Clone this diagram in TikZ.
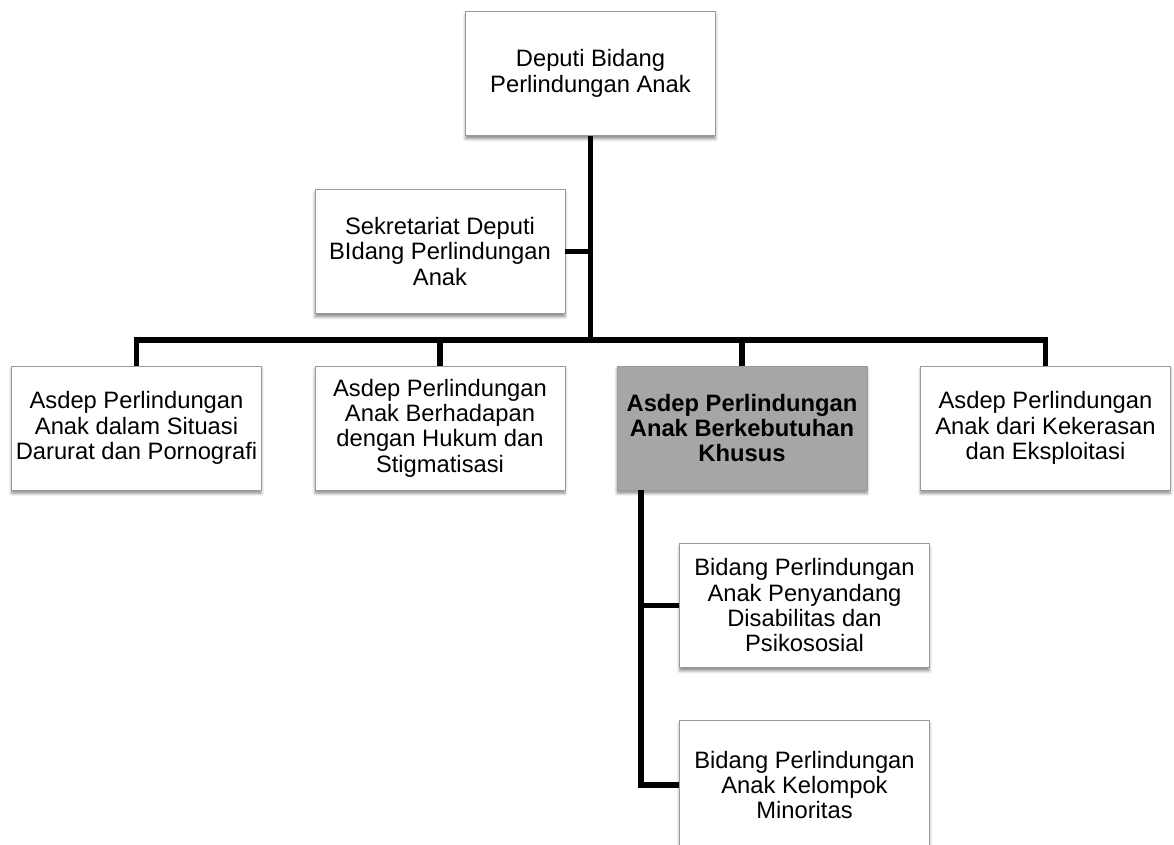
\documentclass[tikz,border=0pt]{standalone}
\usepackage{fontspec}
\setmainfont{Liberation Sans}
\usetikzlibrary{shadows.blur}
\definecolor{boxline}{HTML}{9A9A9A}
\definecolor{hifill}{HTML}{A6A6A6}

\begin{document}
\begin{tikzpicture}[x=0.75pt,y=-0.75pt,
		box/.style={draw=boxline, line width=0.6pt, fill=white, align=center,
			minimum width=187.5pt, minimum height=93pt, inner sep=2pt,
			font=\fontsize{17.8}{19}\selectfont,
			blur shadow={shadow xshift=0pt, shadow yshift=-2.5pt, shadow blur steps=5, shadow opacity=45}},
		hibox/.style={box, fill=hifill, font=\fontsize{17.8}{19}\selectfont\bfseries},
		conn/.style={line width=4pt}]
		\useasboundingbox (0,0) rectangle (1174,845);

		\node[box] (dep) at (590.5,73.5) {Deputi Bidang\\Perlindungan Anak};
		\node[box] (sek) at (440,251.5) {Sekretariat Deputi\\BIdang Perlindungan\\Anak};

		\node[box] (situasi) at (136.5,428) {Asdep Perlindungan\\Anak dalam Situasi\\Darurat dan Pornografi};
		\node[box] (hukum) at (440,428) {Asdep Perlindungan\\Anak Berhadapan\\dengan Hukum dan\\Stigmatisasi};
		\node[hibox] (khusus) at (742,428) {Asdep Perlindungan\\Anak Berkebutuhan\\Khusus};
		\node[box] (eksploitasi) at (1045.5,428) {Asdep Perlindungan\\Anak dari Kekerasan\\dan Eksploitasi};

		\node[box] (disabilitas) at (804.5,605.5) {Bidang Perlindungan\\Anak Penyandang\\Disabilitas dan\\Psikososial};
		\node[box, minimum height=97pt] (minoritas) at (804.5,785) {Bidang Perlindungan\\Anak Kelompok\\Minoritas};

		% lines between the boxes
		\coordinate (bar) at (590.5,340);
		\coordinate (sub) at (641,490);
		\draw [conn] (dep.south) -- (bar);
		\draw [conn] (sek.east) -- (sek.east -| dep.south);
		\draw [conn] (situasi.north) |- (bar) -| (eksploitasi.north);
		\draw [conn] (hukum.north) -- (hukum.north |- bar);
		\draw [conn] (khusus.north) -- (khusus.north |- bar);
		\draw [conn] (sub) |- (disabilitas.west);
		\draw [conn] (sub) |- (minoritas.west);
	\end{tikzpicture}
\end{document}
